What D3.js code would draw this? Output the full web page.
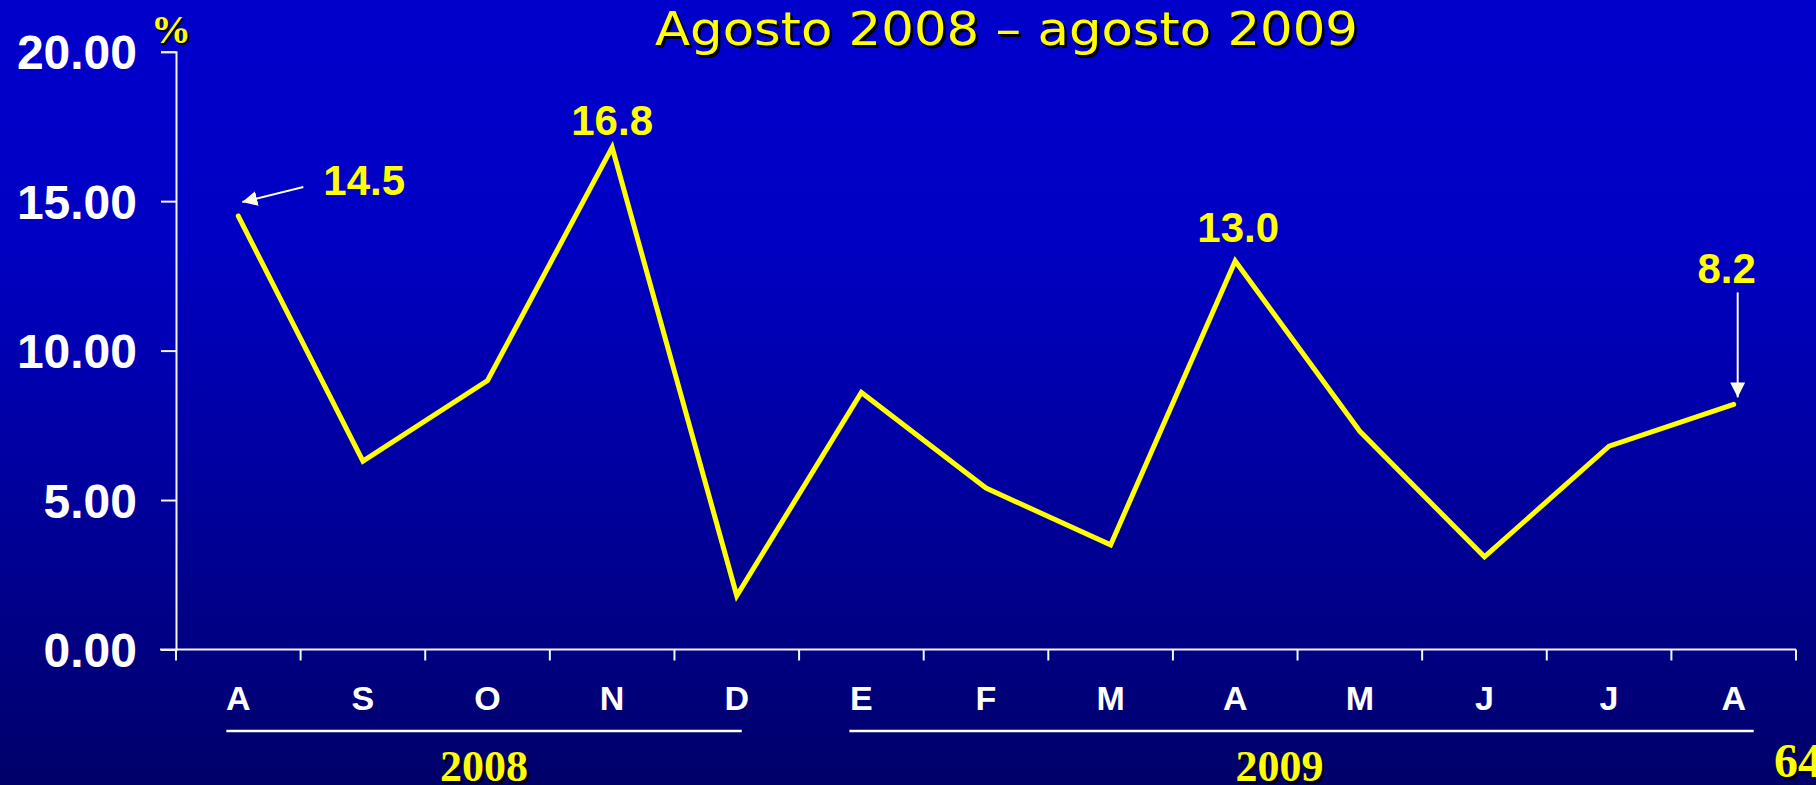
<!DOCTYPE html>
<html>
<head>
<meta charset="utf-8">
<script src="https://cdn.jsdelivr.net/npm/d3@7"></script>
<style>
  html, body { margin: 0; padding: 0; background: #0000a0; overflow: hidden; }
  svg { display: block; }
</style>
</head>
<body>
<svg id="chart" width="1816" height="785"></svg>
<script>
// ---- data ----
const months = ["A", "S", "O", "N", "D", "E", "F", "M", "A", "M", "J", "J", "A"];
const values = [14.5, 6.3, 9.0, 16.8, 1.8, 8.6, 5.4, 3.5, 13.0, 7.3, 3.1, 6.8, 8.2];
const yTicks = [0, 5, 10, 15, 20];
const years = ["2008", "2009"];
const yearStartIdx = [0, 5];
const yearEndIdx = [4, 12];
const labeledIdx = [0, 3, 8, 12];
const titleText = "Agosto 2008 \u2013 agosto 2009";
const unitText = "%";
const pageNumber = "64";

// ---- layout ----
const W = 1816, H = 785;
const svg = d3.select("#chart");
const defs = svg.append("defs");

const grad = defs.append("linearGradient")
  .attr("id", "bg").attr("x1", 0).attr("y1", 0).attr("x2", 0).attr("y2", 1);
grad.append("stop").attr("offset", "0%").attr("stop-color", "#0000cc");
grad.append("stop").attr("offset", "30%").attr("stop-color", "#0000c4");
grad.append("stop").attr("offset", "65%").attr("stop-color", "#00009a");
grad.append("stop").attr("offset", "100%").attr("stop-color", "#00006a");
svg.append("rect").attr("width", W).attr("height", H).attr("fill", "url(#bg)");

defs.append("marker")
  .attr("id", "arrow").attr("viewBox", "0 0 10 10")
  .attr("refX", 10).attr("refY", 5)
  .attr("markerUnits", "userSpaceOnUse")
  .attr("markerWidth", 15).attr("markerHeight", 15)
  .attr("orient", "auto")
  .append("path").attr("d", "M0,0 L10,5 L0,10 Z").attr("fill", "#ffffe0");

const x = d3.scaleBand().domain(d3.range(months.length)).range([176, 1796]).padding(0);
const y = d3.scaleLinear().domain([0, 20]).range([649.5, 51.7]);
const cx = i => x(i) + x.bandwidth() / 2;

const axisColor = "#f4f4f4";

// y axis
const yAxis = svg.append("g").attr("transform", `translate(176,0)`)
  .call(d3.axisLeft(y).tickValues(yTicks).tickSize(15).tickPadding(24)
    .tickFormat(d3.format(".2f")));
yAxis.select(".domain").attr("stroke", axisColor).attr("stroke-width", 2);
yAxis.selectAll(".tick line").attr("stroke", axisColor).attr("stroke-width", 2);
yAxis.selectAll(".tick text")
  .attr("fill", "#ffffff")
  .attr("font-family", "'Liberation Sans', Arial, sans-serif")
  .attr("font-weight", "bold")
  .attr("font-size", 48)
  .attr("dy", "0.36em");

// x axis
const xAxis = svg.append("g").attr("transform", `translate(0,${y(0)})`)
  .call(d3.axisBottom(x).tickSize(0).tickFormat(i => months[i]).tickPadding(60));
xAxis.select(".domain").remove();
svg.append("line")
  .attr("x1", 160).attr("x2", 1796).attr("y1", y(0)).attr("y2", y(0))
  .attr("stroke", axisColor).attr("stroke-width", 2);
xAxis.selectAll(".tick text")
  .attr("fill", "#ffffff")
  .attr("font-family", "'Liberation Sans', Arial, sans-serif")
  .attr("font-weight", "bold")
  .attr("font-size", 34)
  .attr("dy", 0);
// boundary ticks
const bounds = d3.range(months.length + 1).map(i => i < months.length ? x(i) : x(months.length - 1) + x.bandwidth());
svg.append("g").selectAll("line").data(bounds).join("line")
  .attr("x1", d => d).attr("x2", d => d)
  .attr("y1", y(0)).attr("y2", y(0) + 11)
  .attr("stroke", axisColor).attr("stroke-width", 2);

// year brackets
const yearG = svg.append("g");
years.forEach((yr, k) => {
  const x1 = cx(yearStartIdx[k]) - 12;
  const x2 = cx(yearEndIdx[k]) + (k === 0 ? 5 : 20);
  yearG.append("line")
    .attr("x1", x1).attr("x2", x2).attr("y1", 731).attr("y2", 731)
    .attr("stroke", "#fffff0").attr("stroke-width", 2.5);
  const mid = (x1 + x2) / 2 + (k === 0 ? 0 : -22);
  [["#000000", 2.5], ["#ffff00", 0]].forEach(([c, o]) => {
    yearG.append("text")
      .attr("x", mid + o).attr("y", 781 + o)
      .attr("text-anchor", "middle")
      .attr("font-family", "'Liberation Serif', 'Times New Roman', serif")
      .attr("font-weight", "bold").attr("font-size", 44)
      .attr("fill", c).text(yr);
  });
});

// page number
[["#000000", 2.5], ["#ffff00", 0]].forEach(([c, o]) => {
  svg.append("text")
    .attr("x", 1774 + o).attr("y", 777 + o)
    .attr("font-family", "'Liberation Serif', 'Times New Roman', serif")
    .attr("font-weight", "bold").attr("font-size", 48)
    .attr("fill", c).text(pageNumber);
});

// title
[["#000000", 2.5], ["#ffff00", 0]].forEach(([c, o]) => {
  svg.append("text")
    .attr("x", 655 + o).attr("y", 45 + o)
    .attr("textLength", 703).attr("lengthAdjust", "spacingAndGlyphs")
    .attr("font-family", "'DejaVu Sans', Verdana, sans-serif")
    .attr("font-size", 46)
    .attr("fill", c).text(titleText);
});

// unit "%"
[["#000000", 2], ["#ffff00", 0]].forEach(([c, o]) => {
  svg.append("text")
    .attr("x", 171 + o).attr("y", 43 + o)
    .attr("text-anchor", "middle")
    .attr("font-family", "'Liberation Serif', 'Times New Roman', serif")
    .attr("font-weight", "bold").attr("font-size", 40)
    .attr("fill", c).text(unitText);
});

// line
const line = d3.line().x((d, i) => cx(i)).y(d => y(d));
svg.append("path").datum(values)
  .attr("d", line)
  .attr("fill", "none")
  .attr("stroke", "#ffff00")
  .attr("stroke-width", 5)
  .attr("stroke-linejoin", "miter")
  .attr("stroke-miterlimit", 10)
  .attr("stroke-linecap", "round");

// value labels (offsets relative to the point)
const labelOffsets = {
  0: { dx: 85, dy: -21, anchor: "start" },
  3: { dx: 0, dy: -12, anchor: "middle" },
  8: { dx: 3, dy: -19, anchor: "middle" },
  12: { dx: -7, dy: -121, anchor: "middle" }
};
labeledIdx.forEach(i => {
  const o = labelOffsets[i];
  svg.append("text")
    .attr("x", cx(i) + o.dx).attr("y", y(values[i]) + o.dy)
    .attr("text-anchor", o.anchor)
    .attr("font-family", "'Liberation Sans', Arial, sans-serif")
    .attr("font-weight", "bold").attr("font-size", 42)
    .attr("fill", "#ffff00")
    .text(d3.format(".1f")(values[i]));
});

// arrows
const p0 = [cx(0), y(values[0])];
svg.append("line")
  .attr("x1", p0[0] + 65).attr("y1", p0[1] - 29)
  .attr("x2", p0[0] + 4).attr("y2", p0[1] - 14)
  .attr("stroke", "#ffffe0").attr("stroke-width", 2)
  .attr("marker-end", "url(#arrow)");
const pL = [cx(12), y(values[12])];
svg.append("line")
  .attr("x1", pL[0] + 4).attr("y1", pL[1] - 112)
  .attr("x2", pL[0] + 4).attr("y2", pL[1] - 7)
  .attr("stroke", "#ffffe0").attr("stroke-width", 2)
  .attr("marker-end", "url(#arrow)");
</script>
</body>
</html>
